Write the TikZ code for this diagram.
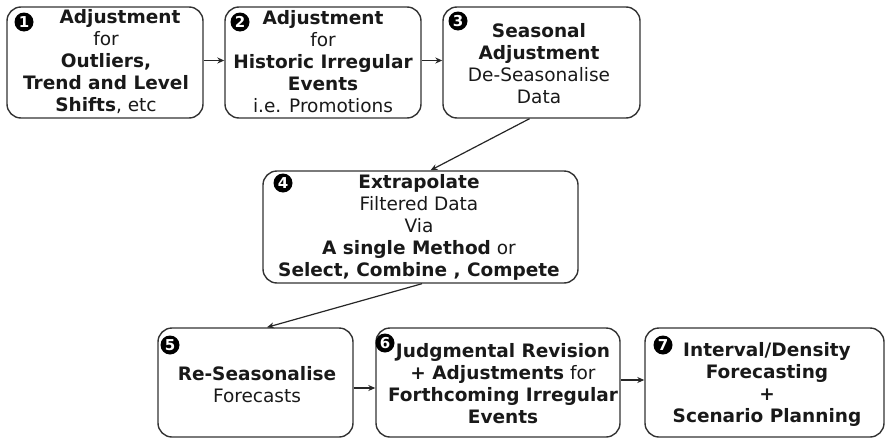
\documentclass[tikz,border=0pt]{standalone}
\usepackage{fontspec}
\setmainfont{DejaVu Sans}
\usetikzlibrary{arrows.meta,calc}
\tikzset{
  box/.style={draw=black!80, line width=1.4pt, rounded corners=14pt, align=center,
    inner sep=0pt, font=\fontsize{18.5}{22}\selectfont, text=black!90},
  num/.style={circle, fill=black, text=white, inner sep=0pt, minimum size=19pt,
    font=\fontsize{15}{15}\selectfont\bfseries},
  conn/.style={draw=black!85, line width=1.2pt, -{Stealth[length=7pt,width=6pt]}}
}
\begin{document}
\begin{tikzpicture}[x=1pt,y=-1pt]
\useasboundingbox (0,0) rectangle (887,442);
\node[box, minimum width=196pt, minimum height=111pt] (b1) at (105,62.5) {};
\node[box, minimum width=196pt, minimum height=111pt] (b2) at (323,62.5) {};
\node[box, minimum width=197pt, minimum height=111pt] (b3) at (541.5,62.5) {};
\node[box, minimum width=315pt, minimum height=112pt] (b4) at (420.5,227) {};
\node[box, minimum width=195pt, minimum height=109pt] (b5) at (255.5,382.5) {};
\node[box, minimum width=244pt, minimum height=109pt] (b6) at (498,382.5) {};
\node[box, minimum width=239pt, minimum height=109pt] (b7) at (764.5,382.5) {};

\node[box, draw=none] (t1) at (106,62) {\hspace*{28pt}\textbf{Adjustment}\\for\\\textbf{Outliers,}\\\textbf{Trend and Level}\\\textbf{Shifts}, etc};
\node[box, draw=none] (t2) at (323,62) {\textbf{Adjustment}\\for\\\textbf{Historic Irregular}\\\textbf{Events}\\i.e. Promotions};
\node[box, draw=none] (t3) at (539,64) {\textbf{Seasonal}\\\textbf{Adjustment}\\De-Seasonalise\\Data};
\node[box, draw=none] (t4) at (419,227) {\textbf{Extrapolate}\\Filtered Data\\Via\\\textbf{A single Method} or\\\textbf{Select, Combine , Compete}};
\node[box, draw=none] (t5) at (257,385) {\textbf{Re-Seasonalise}\\Forecasts};
\node[box, draw=none] (t6) at (503,384) {\textbf{Judgmental Revision}\\\textbf{+ Adjustments} for\\\textbf{Forthcoming Irregular}\\\textbf{Events}};
\node[box, draw=none] (t7) at (767,384) {\textbf{Interval/Density}\\\textbf{Forecasting}\\\textbf{+}\\\textbf{Scenario Planning}};

\node[num] (n1) at (24,22) {1};
\node[num] (n2) at (240,22) {2};
\node[num] (n3) at (458,21) {3};
\node[num] (n4) at (283,183) {4};
\node[num] (n5) at (170,345) {5};
\node[num] (n6) at (385,343) {6};
\node[num] (n7) at (663,345) {7};

\coordinate (a12) at ($(b1.east)+(0,-2)$);
\coordinate (a23) at ($(b2.east)+(0,-2)$);
\draw[conn] (a12) -- (a12 -| b2.west);
\draw[conn] (a23) -- (a23 -| b3.west);
\draw[conn] ($(b3.south)+(-12,0)$) -- ($(b4.north)+(10,0)$);
\draw[conn] ($(b4.south)+(1.5,0)$) -- ($(b5.north)+(11.5,0)$);
\coordinate (a56) at ($(b5.east)+(0,5.5)$);
\coordinate (a67) at ($(b6.east)+(0,-2.5)$);
\draw[conn] (a56) -- (a56 -| b6.west);
\draw[conn] (a67) -- (a67 -| b7.west);
\end{tikzpicture}
\end{document}
